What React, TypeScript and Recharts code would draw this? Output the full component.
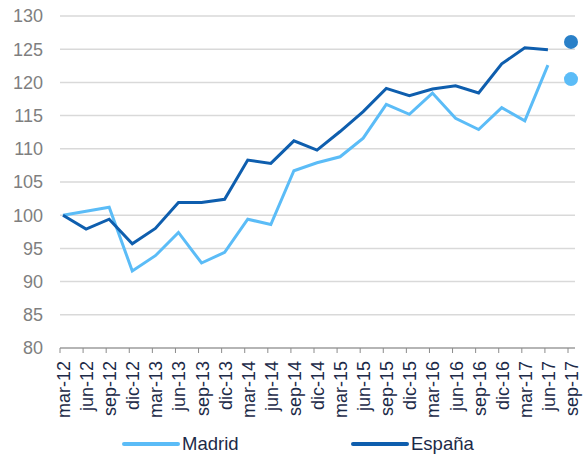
import React from "react";
import { CartesianGrid, Line, LineChart, XAxis, YAxis } from "recharts";

const quarters = [
  "mar-12", "jun-12", "sep-12", "dic-12",
  "mar-13", "jun-13", "sep-13", "dic-13",
  "mar-14", "jun-14", "sep-14", "dic-14",
  "mar-15", "jun-15", "sep-15", "dic-15",
  "mar-16", "jun-16", "sep-16", "dic-16",
  "mar-17", "jun-17", "sep-17",
];

const madrid = [
  100, 100.6, 101.2, 91.6, 93.9, 97.4, 92.8, 94.4, 99.4, 98.6, 106.7, 107.9,
  108.8, 111.6, 116.7, 115.2, 118.4, 114.6, 112.9, 116.2, 114.2, 122.6, null,
];
const espana = [
  100, 97.9, 99.4, 95.7, 98.0, 101.9, 101.9, 102.4, 108.3, 107.8, 111.2, 109.8,
  112.6, 115.6, 119.1, 118.0, 119.0, 119.5, 118.4, 122.8, 125.2, 124.9, null,
];
// forecast markers shown only for the last quarter
const madridForecast = [
  null, null, null, null, null, null, null, null, null, null, null, null,
  null, null, null, null, null, null, null, null, null, null, 120.5,
];
const espanaForecast = [
  null, null, null, null, null, null, null, null, null, null, null, null,
  null, null, null, null, null, null, null, null, null, null, 126.1,
];

const yTicks = [80, 85, 90, 95, 100, 105, 110, 115, 120, 125, 130];

const data = quarters.map((q, i) => ({
  q,
  madrid: madrid[i],
  espana: espana[i],
  madridF: madridForecast[i],
  espanaF: espanaForecast[i],
}));

const FONT = "'Liberation Sans', Arial, sans-serif";
const LIGHT = "#5bbcf7";
const DARK = "#0e5eae";

function QuarterTick({ x, y, payload }: any) {
  const tx = x + 7;
  const ty = y + 6;
  return (
    <g>
      <line x1={x - 3} x2={x - 3} y1={y - 7} y2={y - 2} stroke="#8c8c8c" />
      <text
        x={tx}
        y={ty}
        transform={`rotate(-90, ${tx}, ${ty})`}
        textAnchor="end"
        fill="#1c2a48"
        fontSize={18}
        fontFamily={FONT}
      >
        {payload.value}
      </text>
    </g>
  );
}

function Legend() {
  const item = (color: string, label: string, x: number) => (
    <g>
      <line x1={x} x2={x + 54} y1={444} y2={444} stroke={color} strokeWidth={4} strokeLinecap="round" />
      <text x={x + 58} y={450} fill="#1c2a48" fontSize={18.5} fontFamily={FONT}>
        {label}
      </text>
    </g>
  );
  return (
    <svg width={588} height={455} style={{ position: "absolute", left: 0, top: 0, pointerEvents: "none" }}>
      {item(LIGHT, "Madrid", 124)}
      {item(DARK, "España", 353)}
    </svg>
  );
}

export default function App() {
  return (
    <div style={{ position: "absolute", left: 0, top: 0, width: 588, height: 455, background: "#fff" }}>
      <LineChart
        width={588}
        height={455}
        data={data}
        margin={{ top: 16, right: 13, bottom: 0, left: 0 }}
      >
        <CartesianGrid vertical={false} stroke="#d9d9d9" strokeWidth={1.5} />
        <XAxis
          dataKey="q"
          interval={0}
          height={107}
          padding={{ left: 3, right: 4 }}
          tick={<QuarterTick />}
          tickSize={5}
          tickLine={false}
          axisLine={{ stroke: "#a6a6a6", strokeWidth: 1.5 }}
        />
        <YAxis
          domain={[80, 130]}
          ticks={yTicks}
          width={60}
          axisLine={false}
          tickLine={false}
          tickMargin={11}
          tick={{ fill: "#7f7f7f", fontSize: 18, fontFamily: FONT }}
        />
        <Line
          dataKey="madrid"
          stroke={LIGHT}
          strokeWidth={3}
          dot={false}
          isAnimationActive={false}
          strokeLinejoin="miter"
        />
        <Line
          dataKey="espana"
          stroke={DARK}
          strokeWidth={3}
          dot={false}
          isAnimationActive={false}
          strokeLinejoin="miter"
        />
        <Line
          dataKey="madridF"
          stroke="none"
          dot={{ r: 7, fill: LIGHT, stroke: "none" }}
          isAnimationActive={false}
        />
        <Line
          dataKey="espanaF"
          stroke="none"
          dot={{ r: 7, fill: "#2a80c8", stroke: "none" }}
          isAnimationActive={false}
        />
      </LineChart>
      <Legend />
    </div>
  );
}
